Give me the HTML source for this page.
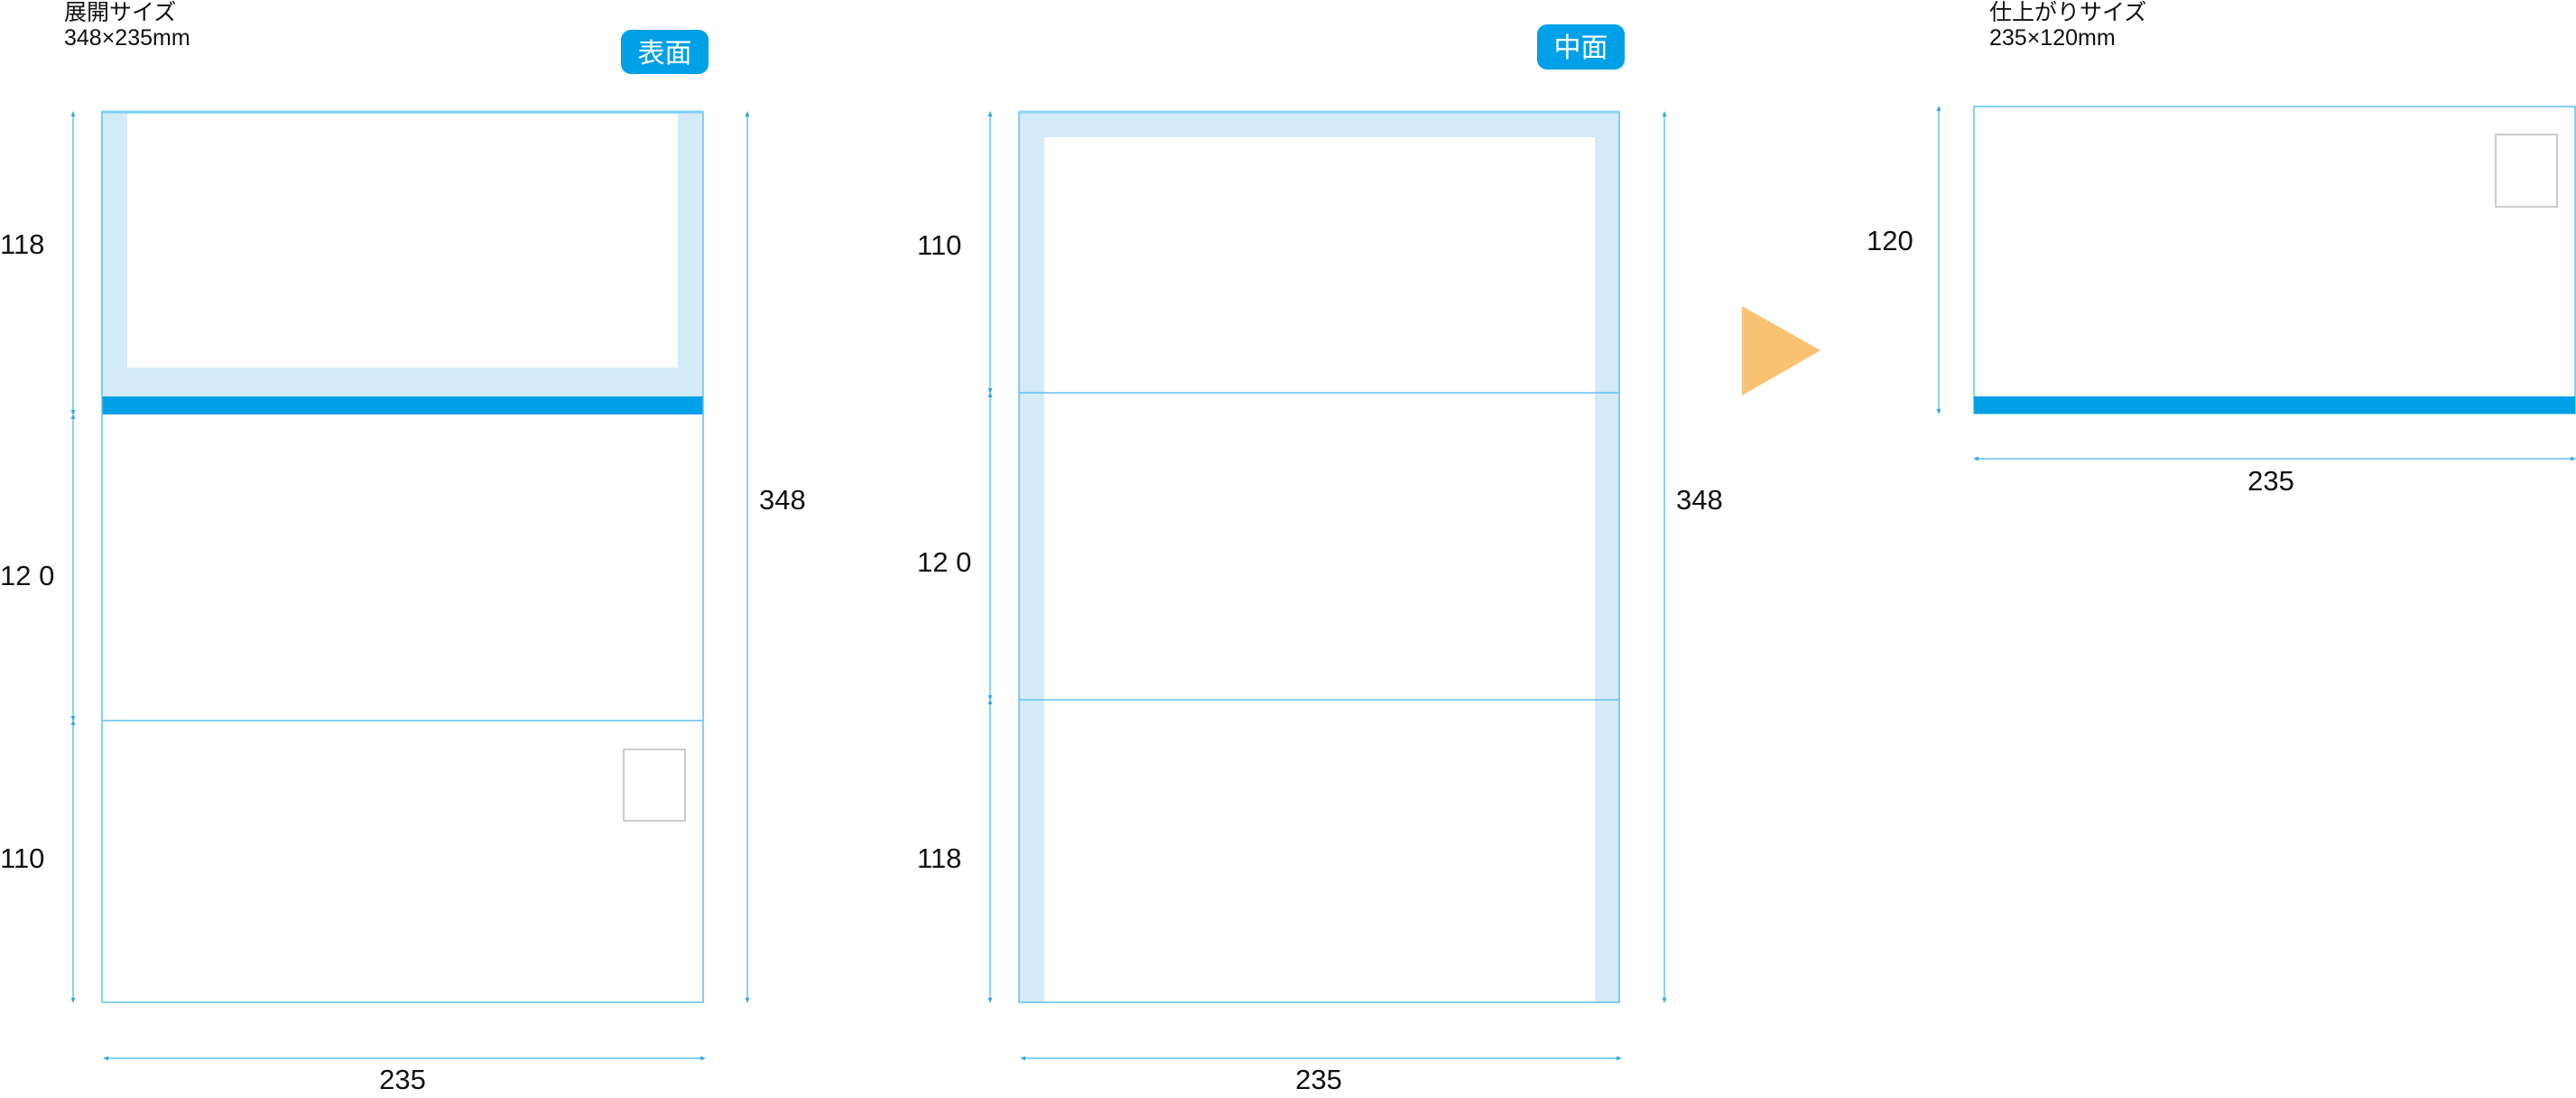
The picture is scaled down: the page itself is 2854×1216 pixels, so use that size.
<!DOCTYPE html>
<html><head><meta charset="utf-8"><style>
html,body{margin:0;padding:0;background:#fff;}
svg{display:block;}
text{font-family:"Liberation Sans","Noto Sans CJK JP",sans-serif;}
</style></head><body>
<svg width="2854" height="1216" viewBox="0 0 2854 1216" xmlns="http://www.w3.org/2000/svg">
<defs>
<marker id="a" viewBox="0 0 10 10" refX="5" refY="5" markerWidth="5" markerHeight="5" orient="auto-start-reverse"><path d="M0,1 L10,5 L0,9 z" fill="#2fa8e6"/></marker>
</defs>
<g font-size="25" fill="#111">
<text x="71" y="22">展開サイズ</text>
<text x="71" y="50">348×235mm</text>
<text x="2204" y="22">仕上がりサイズ</text>
<text x="2204" y="50">235×120mm</text>
</g>
<!-- badges -->
<rect x="688" y="33" width="97" height="49" rx="11" fill="#00a0e9"/>
<text x="736.5" y="69" font-size="30" fill="#fff" text-anchor="middle">表面</text>
<rect x="1703" y="27" width="97" height="50" rx="11" fill="#00a0e9"/>
<text x="1751.5" y="63" font-size="30" fill="#fff" text-anchor="middle">中面</text>

<!-- panel 1 -->
<rect x="113" y="124" width="666" height="315" fill="#d4ebf8"/>
<rect x="141" y="126" width="610" height="281" fill="#fff"/>
<rect x="113" y="439" width="666" height="20" fill="#00a0e9"/>
<rect x="113" y="124" width="666" height="986" fill="none" stroke="#5fc0ee" stroke-width="1.5"/>
<line x1="113" y1="124" x2="779" y2="124" stroke="#7fd0f4" stroke-width="3"/>
<line x1="113" y1="798" x2="779" y2="798" stroke="#5fc0ee" stroke-width="1.5"/>
<rect x="691" y="830" width="68" height="79" fill="none" stroke="#bbb" stroke-width="1.5"/>
<g stroke="#3fb2ea" stroke-width="1.2" marker-start="url(#a)" marker-end="url(#a)">
<line x1="81" y1="126" x2="81" y2="457"/>
<line x1="81" y1="461" x2="81" y2="796"/>
<line x1="81" y1="800" x2="81" y2="1108"/>
<line x1="828" y1="126" x2="828" y2="1108"/>
<line x1="117" y1="1172" x2="779" y2="1172"/>
</g>

<!-- panel 2 -->
<rect x="1129" y="124" width="665" height="986" fill="#d4ebf8"/>
<rect x="1157" y="152" width="610" height="958" fill="#fff"/>
<rect x="1129" y="124" width="665" height="986" fill="none" stroke="#5fc0ee" stroke-width="1.5"/>
<line x1="1129" y1="124" x2="1794" y2="124" stroke="#8fd6f4" stroke-width="3"/>
<line x1="1129" y1="435" x2="1794" y2="435" stroke="#5fc0ee" stroke-width="1.5"/>
<line x1="1129" y1="775" x2="1794" y2="775" stroke="#5fc0ee" stroke-width="1.5"/>
<g stroke="#3fb2ea" stroke-width="1.2" marker-start="url(#a)" marker-end="url(#a)">
<line x1="1097" y1="126" x2="1097" y2="433"/>
<line x1="1097" y1="437" x2="1097" y2="773"/>
<line x1="1097" y1="777" x2="1097" y2="1108"/>
<line x1="1844" y1="126" x2="1844" y2="1108"/>
<line x1="1133" y1="1172" x2="1794" y2="1172"/>
</g>

<!-- arrow -->
<polygon points="1930,339 1930,438 2017,388" fill="#f9c273"/>

<!-- panel 3 -->
<rect x="2187" y="118" width="666" height="340" fill="none" stroke="#5fc0ee" stroke-width="1.5"/>
<rect x="2187" y="439" width="666" height="19" fill="#00a0e9"/>
<rect x="2765" y="149" width="68" height="80" fill="none" stroke="#bbb" stroke-width="1.5"/>
<g stroke="#3fb2ea" stroke-width="1.2" marker-start="url(#a)" marker-end="url(#a)">
<line x1="2148" y1="120" x2="2148" y2="456"/>
<line x1="2189" y1="508" x2="2851" y2="508"/>
</g>

<!-- labels -->
<g font-size="31" fill="#111">
<text x="0" y="281">118</text>
<text x="0" y="648">12 0</text>
<text x="0" y="961">110</text>
<text x="841" y="564">348</text>
<text x="446" y="1206" text-anchor="middle">235</text>
<text x="1016" y="282">110</text>
<text x="1016" y="633">12 0</text>
<text x="1016" y="961">118</text>
<text x="1857" y="564">348</text>
<text x="1461" y="1206" text-anchor="middle">235</text>
<text x="2068" y="277">120</text>
<text x="2516" y="543" text-anchor="middle">235</text>
</g>
</svg>
</body></html>
